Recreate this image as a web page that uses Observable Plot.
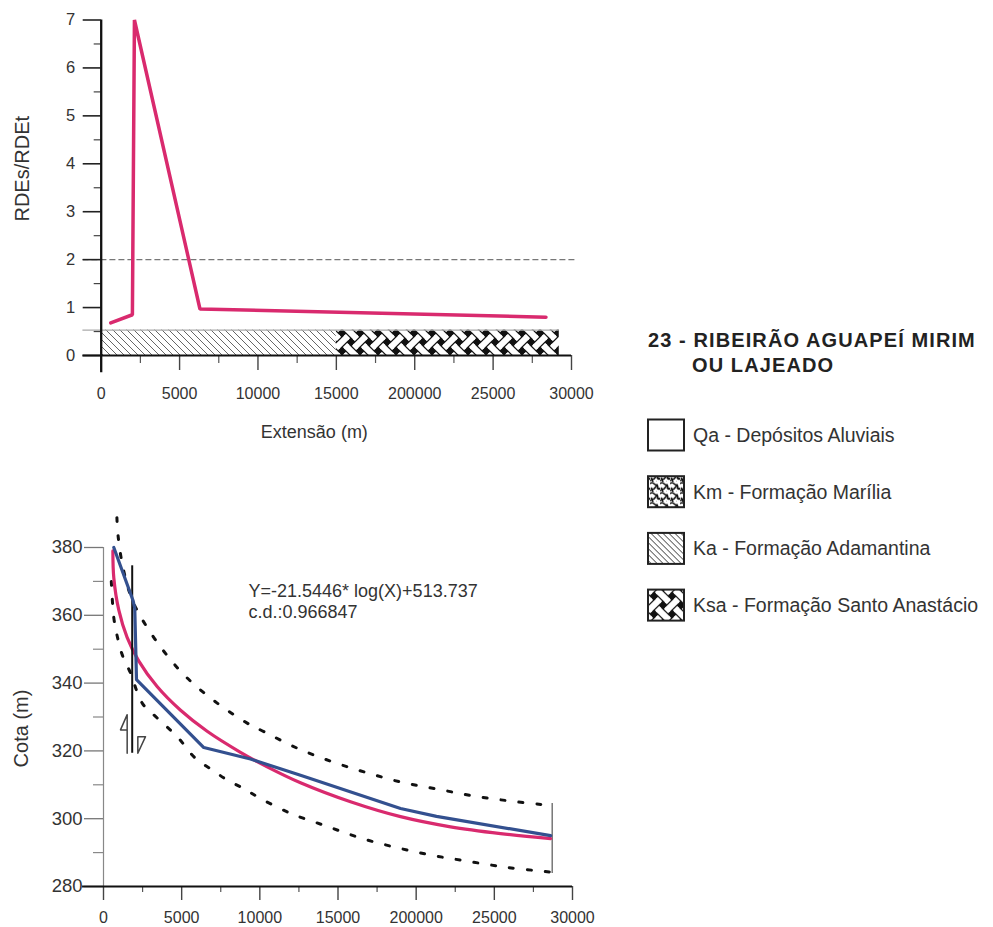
<!DOCTYPE html>
<html><head><meta charset="utf-8">
<script src="https://cdn.jsdelivr.net/npm/d3@7"></script>
<script src="https://cdn.jsdelivr.net/npm/@observablehq/plot@0.6"></script>
<style>
body{margin:0;background:#fff;font-family:"Liberation Sans",Arial,sans-serif;}
#root{position:relative;width:993px;height:927px;overflow:hidden;background:#fff;}
#root > svg{position:absolute;}
</style></head><body><div id="root"></div>
<script>
// ---------- DATA ----------
const xTicks = [0, 5000, 10000, 15000, 20000, 25000, 30000];
const xTickLabels = ["0", "5000", "10000", "15000", "200000", "25000", "30000"];
const xMinorTicks = [2500, 7500, 12500, 17500, 22500, 27500];

// Top chart: RDEs/RDEt
const rdeTicks = [0, 1, 2, 3, 4, 5, 6, 7];
const rdeMinorTicks = [0.5, 1.5, 2.5, 3.5, 4.5, 5.5, 6.5];
const rdeX = [610, 1990, 2120, 6300, 28370];
const rdeY = [0.68, 0.85, 7.0, 0.97, 0.80];
const rdeThreshold = 2;
const geoUnits = ["Ka", "Ksa"];
const geoFrom = [0, 15000];
const geoTo = [15000, 29220];
const geoTop = 0.53;

// Bottom chart: Cota (m)
const cotaTicks = [280, 300, 320, 340, 360, 380];
const cotaMinorTicks = [290, 310, 330, 350, 370];
const profileX = [659, 1900, 2000, 2111, 6416, 9400, 12600, 19000, 21300, 28600];
const profileY = [380, 364.2, 362, 341, 321, 317.6, 312.8, 303, 300.7, 295];
const fitX = [600, 660, 980, 1510, 2260, 3430, 4930, 6630, 8760, 10470, 12600, 15800, 19000, 22200, 25400, 28600];
const fitY = [379, 371, 361.5, 353.5, 346.5, 339.0, 332.0, 325.8, 319.6, 315.3, 310.6, 305.0, 300.6, 297.6, 295.6, 294.1];
const upperX = [857, 934, 1250, 1800, 2476, 3857, 5354, 7273, 9192, 10255, 12391, 14630, 16824, 19108, 21385, 23688, 26036, 28383, 28700];
const upperY = [388.8, 383.4, 374, 365, 358.8, 349.4, 341.5, 334.1, 328.2, 325.7, 320.8, 316.8, 313.6, 310.7, 308.7, 306.7, 305.2, 304.0, 303.8];
const lowerX = [500, 659, 876, 1194, 1727, 2476, 3434, 4713, 5885, 6953, 7913, 8975, 9832, 12007, 14265, 16440, 18724, 21027, 23369, 25716, 28064, 28700];
const lowerY = [370, 359.3, 353.9, 348.4, 343.0, 334.1, 329.7, 324.2, 317.8, 314.4, 311.4, 308.9, 306.5, 301.5, 297.8, 294.3, 291.5, 289.2, 287.4, 285.7, 284.5, 284.2];
const faultX = 1836, faultFrom = 319.3, faultTo = 374.6;
const faultArrowUp = [[1514, 319.3], [1514, 330.7], [1087, 326.2], [1514, 326.2]];
const faultArrowDown = [[2196, 319.3], [2196, 324.2], [2687, 324.2], [2196, 319.3]];
const endX = 28700, endFrom = 283.8, endTo = 304.5;
const equationLines = ["Y=-21.5446* log(X)+513.737", "c.d.:0.966847"];
const equationAt = [9276, 369.6];

// Legend
const legendTitle = ["23 - RIBEIRÃO AGUAPEÍ MIRIM", "OU LAJEADO"];
const legendCodes = ["Qa", "Km", "Ka", "Ksa"];
const legendNames = ["Depósitos Aluviais", "Formação Marília", "Formação Adamantina", "Formação Santo Anastácio"];

// ---------- STYLE ----------
const PINK = "#d92a6e", BLUE = "#33508f", INK = "#333";
const FONT = '"Liberation Sans", Arial, sans-serif';
const root = d3.select("#root");

// ---------- PATTERNS ----------
const defsSvg = root.append("svg").attr("width", 0).attr("height", 0).style("left", 0).style("top", 0);
const defs = defsSvg.append("defs");
function hatch(id, s, color, w) {
  const p = defs.append("pattern").attr("id", id).attr("patternUnits", "userSpaceOnUse").attr("width", s).attr("height", s);
  p.append("rect").attr("width", s).attr("height", s).attr("fill", "#fff");
  p.append("path").attr("d", `M${-s/2},${-s/2}L${s*1.5},${s*1.5}M${-s/2},${s/2}L${s/2},${s*1.5}M${s/2},${-s/2}L${s*1.5},${s/2}`)
    .attr("stroke", color).attr("stroke-width", w).attr("fill", "none");
}
function weave(id, s) {
  const p = defs.append("pattern").attr("id", id).attr("patternUnits", "userSpaceOnUse").attr("width", s).attr("height", s);
  const w = s * 0.34;
  p.append("rect").attr("width", s).attr("height", s).attr("fill", "#111");
  p.append("path").attr("d", `M-2,-2L${s+2},${s+2}M${s+2},-2L-2,${s+2}`).attr("stroke", "#fff").attr("stroke-width", w);
  const a = s * 0.28, b = s * 0.72;
  p.append("path").attr("d", `M${a},${a}L${b},${b}`).attr("stroke", "#111").attr("stroke-width", w + 2.4);
  p.append("path").attr("d", `M${a - 1},${a - 1}L${b + 1},${b + 1}`).attr("stroke", "#fff").attr("stroke-width", w);
  const c = s * 0.22;
  const corners = [[0, 0], [s, 0], [0, s], [s, s]];
  const seg = corners.map(([x, y]) => `M${x - c},${y + c}L${x + c},${y - c}`).join("");
  p.append("path").attr("d", seg).attr("stroke", "#111").attr("stroke-width", w + 2.4);
  const seg2 = corners.map(([x, y]) => `M${x - c - 1},${y + c + 1}L${x + c + 1},${y - c - 1}`).join("");
  p.append("path").attr("d", seg2).attr("stroke", "#fff").attr("stroke-width", w);
}
function squiggle(id, s) {
  const p = defs.append("pattern").attr("id", id).attr("patternUnits", "userSpaceOnUse").attr("width", s).attr("height", s);
  p.append("rect").attr("width", s).attr("height", s).attr("fill", "#fff");
  p.append("path").attr("d", `M0,2 q2,-2 4,0 t4,1 M1,6 q2,3 4,0 t3,-1 M6,3 q3,1 1,4 M0,9 q2,-2 3,1 t4,0 M8,8 q1,-3 2,0`)
    .attr("stroke", "#111").attr("stroke-width", 1.5).attr("fill", "none");
}
hatch("ka-bar", 7, "#555", 0.9);
hatch("ka-leg", 6, "#333", 1);
weave("ksa-bar", 18);
weave("ksa-leg", 18);
squiggle("km-leg", 10);

const tickLabel = new Map(xTicks.map((t, i) => [t, xTickLabels[i]]));
const baseStyle = {fontFamily: FONT, color: INK, background: "transparent", overflow: "visible"};

// ---------- TOP CHART ----------
const geo = geoUnits.map((u, i) => ({unit: u, from: geoFrom[i], to: geoTo[i]}));
const rde = rdeX.map((x, i) => ({x, y: rdeY[i]}));
const xAxisStartTop = -1167;

const topPlot = Plot.plot({
  width: 600, height: 450,
  marginLeft: 100.7, marginRight: 29, marginTop: 19.5, marginBottom: 95,
  x: {domain: [0, 30000]},
  y: {domain: [0, 7]},
  style: baseStyle,
  marks: [
    Plot.rect(geo.filter(d => d.unit === "Ka"), {x1: "from", x2: "to", y1: 0, y2: geoTop, fill: "url(#ka-bar)"}),
    Plot.rect(geo.filter(d => d.unit === "Ksa"), {x1: "from", x2: "to", y1: 0, y2: geoTop, fill: "url(#ksa-bar)"}),
    Plot.ruleY([geoTop], {x1: xAxisStartTop, x2: geoTo[geoTo.length - 1], stroke: "#aaa", strokeWidth: 1.2}),
    Plot.ruleY([rdeThreshold], {x1: xAxisStartTop, x2: 30300, stroke: "#777", strokeWidth: 1.2, strokeDasharray: "6,3"}),
    Plot.line(rde, {x: "x", y: "y", stroke: PINK, strokeWidth: 3.5, strokeLinejoin: "miter"}),
    Plot.axisY(rdeMinorTicks, {anchor: "left", tickSize: 7, tickFormat: () => "", label: null, stroke: "#444", strokeWidth: 1.2}),
    Plot.axisY(rdeTicks, {anchor: "left", tickSize: 18, tickPadding: 8, fontSize: 16.5, label: null, stroke: "#222", strokeWidth: 1.6, fill: INK}),
    Plot.axisX(xMinorTicks, {anchor: "bottom", tickSize: 8, tickFormat: () => "", label: null, stroke: "#555", strokeWidth: 1.2}),
    Plot.axisX(xTicks, {anchor: "bottom", tickSize: 15, tickPadding: 17, fontSize: 16, tickFormat: d => tickLabel.get(d), label: null, stroke: "#444", strokeWidth: 1.4, fill: INK}),
    Plot.ruleX([0], {y1: -0.36, y2: 7, stroke: "#111", strokeWidth: 2.3}),
    Plot.ruleY([0], {x1: xAxisStartTop, x2: 30000, stroke: "#111", strokeWidth: 2.2}),
    Plot.text(["Extensão (m)"], {frameAnchor: "bottom", lineAnchor: "middle", textAnchor: "middle", dx: -22, dy: 77, fontSize: 18, fill: INK}),
    Plot.text(["RDEs/RDEt"], {frameAnchor: "left", textAnchor: "middle", lineAnchor: "middle", rotate: -90, dx: -79, dy: -19, fontSize: 20, fill: INK})
  ]
});
d3.select(topPlot).style("left", "0px").style("top", "0px");
root.node().appendChild(topPlot);

// ---------- BOTTOM CHART ----------
const profile = profileX.map((x, i) => ({x, y: profileY[i]}));
const fit = fitX.map((x, i) => ({x, y: fitY[i]}));
const upper = upperX.map((x, i) => ({x, y: upperY[i]}));
const lower = lowerX.map((x, i) => ({x, y: lowerY[i]}));
const arrows = [
  ...faultArrowUp.map(([x, y]) => ({x, y, k: "up"})),
  ...faultArrowDown.map(([x, y]) => ({x, y, k: "down"}))
];
const xAxisStartBottom = -1340;

const bottomPlot = Plot.plot({
  width: 600, height: 457,
  marginLeft: 103, marginRight: 28, marginTop: 77, marginBottom: 41,
  x: {domain: [0, 30000]},
  y: {domain: [280, 380]},
  style: baseStyle,
  marks: [
    Plot.ruleX([0], {y1: 280, y2: 380, stroke: "#888", strokeWidth: 1.2}),
    Plot.axisY(cotaMinorTicks, {anchor: "left", tickSize: 10, tickFormat: () => "", label: null, stroke: "#888", strokeWidth: 1.2}),
    Plot.axisY(cotaTicks, {anchor: "left", tickSize: 19, tickPadding: 2, fontSize: 18.5, label: null, stroke: "#777", strokeWidth: 1.3, fill: INK}),
    Plot.axisX(xMinorTicks, {anchor: "bottom", tickSize: 6, tickFormat: () => "", label: null, stroke: "#555", strokeWidth: 1.2}),
    Plot.axisX(xTicks, {anchor: "bottom", tickSize: 14, tickPadding: 11, fontSize: 16, tickFormat: d => tickLabel.get(d), label: null, stroke: "#444", strokeWidth: 1.4, fill: INK}),
    Plot.ruleY([280], {x1: xAxisStartBottom, x2: 30000, stroke: "#111", strokeWidth: 2.2}),
    Plot.line(upper, {x: "x", y: "y", curve: "catmull-rom", stroke: "#111", strokeWidth: 3, strokeDasharray: "4,14"}),
    Plot.line(lower, {x: "x", y: "y", curve: "catmull-rom", stroke: "#111", strokeWidth: 3, strokeDasharray: "4,14"}),
    Plot.ruleX([endX], {y1: endFrom, y2: endTo, stroke: "#555", strokeWidth: 1.2}),
    Plot.line(fit, {x: "x", y: "y", curve: "catmull-rom", stroke: PINK, strokeWidth: 3.2}),
    Plot.ruleX([faultX], {y1: faultFrom, y2: faultTo, stroke: "#111", strokeWidth: 2}),
    Plot.line(arrows, {x: "x", y: "y", z: "k", stroke: "#444", strokeWidth: 1.5}),
    Plot.line(profile, {x: "x", y: "y", stroke: BLUE, strokeWidth: 3.2, strokeLinejoin: "round"}),
    Plot.text([equationLines.join("\n")], {x: () => equationAt[0], y: () => equationAt[1], textAnchor: "start", lineAnchor: "top", fontSize: 18, lineHeight: 1.15, fill: INK}),
    Plot.text(["Cota (m)"], {frameAnchor: "left", textAnchor: "middle", lineAnchor: "middle", rotate: -90, dx: -82, dy: 11.5, fontSize: 20, fill: INK})
  ]
});
d3.select(bottomPlot).style("left", "0px").style("top", "470px");
root.node().appendChild(bottomPlot);

// ---------- LEGEND ----------
const legendFill = {Qa: "#fff", Km: "url(#km-leg)", Ka: "url(#ka-leg)", Ksa: "url(#ksa-leg)"};
const leg = root.append("svg").attr("width", 393).attr("height", 320)
  .style("left", "600px").style("top", "320px").style("font-family", FONT);
leg.append("text").attr("x", 48).attr("y", 27).text(legendTitle[0])
  .attr("font-size", 20).attr("font-weight", "bold").attr("letter-spacing", 1.1).attr("fill", "#222");
leg.append("text").attr("x", 92).attr("y", 52).text(legendTitle[1])
  .attr("font-size", 20).attr("font-weight", "bold").attr("letter-spacing", 1.1).attr("fill", "#222");
const rows = leg.selectAll("g.item").data(legendCodes).join("g").attr("class", "item")
  .attr("transform", (d, i) => `translate(0,${115 + i * 56.7})`);
rows.append("rect").attr("x", 48).attr("y", -15.5).attr("width", 36).attr("height", 31)
  .attr("fill", d => legendFill[d]).attr("stroke", "#222").attr("stroke-width", 2);
rows.append("text").attr("x", 93).attr("y", 7).attr("font-size", 19.5).attr("fill", INK)
  .text((d, i) => `${d} - ${legendNames[i]}`);
</script></body></html>
